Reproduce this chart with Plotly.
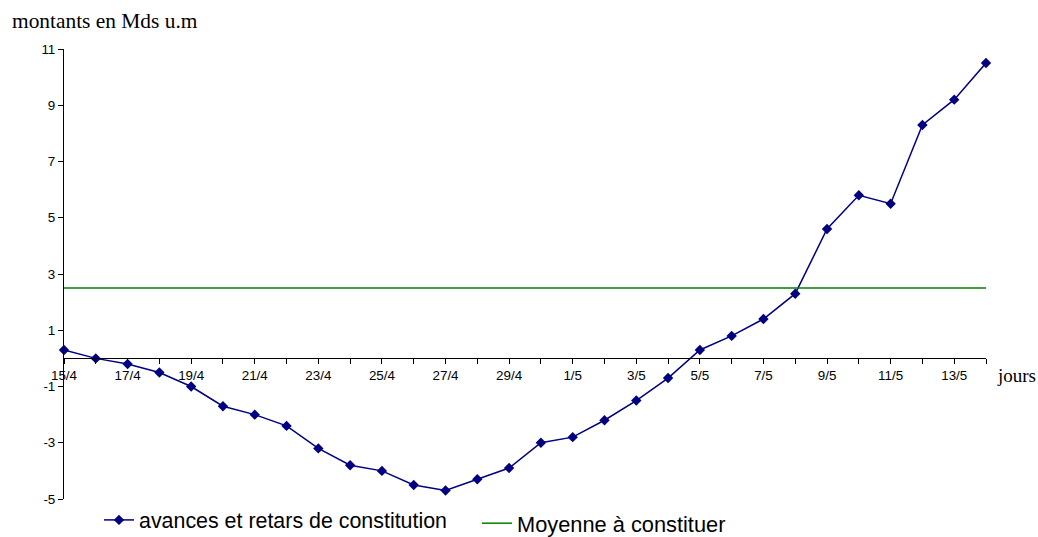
import plotly.graph_objects as go

days = ["15/4","16/4","17/4","18/4","19/4","20/4","21/4","22/4","23/4","24/4",
        "25/4","26/4","27/4","28/4","29/4","30/4","1/5","2/5","3/5","4/5",
        "5/5","6/5","7/5","8/5","9/5","10/5","11/5","12/5","13/5","14/5"]
avances = [0.3, 0.0, -0.2, -0.5, -1.0, -1.7, -2.0, -2.4, -3.2, -3.8,
           -4.0, -4.5, -4.7, -4.3, -3.9, -3.0, -2.8, -2.2, -1.5, -0.7,
           0.3, 0.8, 1.4, 2.3, 4.6, 5.8, 5.5, 8.3, 9.2, 10.5]
moyenne = [2.5] * len(days)
y_ticks = [-5, -3, -1, 1, 3, 5, 7, 9, 11]
y_tick_labels = [str(v) for v in y_ticks]

idx = list(range(len(days)))
tick_text = [d if i % 2 == 0 else "" for i, d in enumerate(days)]

W, H = 1038, 537
L, R, T, B = 64, 52, 49, 38
PW, PH = W - L - R, H - T - B

fig = go.Figure()
fig.add_trace(go.Scatter(
    x=idx, y=avances, mode="lines+markers",
    name="avances et retars de constitution",
    line=dict(color="#000080", width=1.5),
    marker=dict(symbol="diamond", size=8, color="#000080"),
    legend="legend", cliponaxis=False,
))
fig.add_trace(go.Scatter(
    x=idx, y=moyenne, mode="lines",
    name="Moyenne à constituer",
    line=dict(color="#008000", width=1.5),
    legend="legend2",
))

ymin, ymax = -5, 11
fig.update_layout(
    width=W, height=H,
    margin=dict(l=L, r=R, t=T, b=B, autoexpand=False),
    paper_bgcolor="white", plot_bgcolor="white",
    font=dict(family="Liberation Sans, Arial, sans-serif", color="black", size=13),
    xaxis=dict(
        range=[0, len(days) - 1], tickvals=idx, ticktext=tick_text,
        showgrid=False, zeroline=False, showline=True, linecolor="black", linewidth=1,
        ticks="outside", ticklen=5, tickcolor="black",
        anchor="free", position=(0 - ymin) / (ymax - ymin),
        tickfont=dict(size=13.4), tickangle=0,
    ),
    yaxis=dict(
        range=[ymin, ymax], tickvals=y_ticks, ticktext=y_tick_labels,
        showgrid=False, zeroline=False, showline=True, linecolor="black", linewidth=1,
        ticks="outside", ticklen=5, tickcolor="black",
        tickfont=dict(size=13.4),
    ),
    legend=dict(
        orientation="h", xref="container", yref="container",
        x=99 / W, y=(H - 520) / H, xanchor="left", yanchor="middle",
        font=dict(size=21.4), bgcolor="rgba(0,0,0,0)",
    ),
    legend2=dict(
        orientation="h", xref="container", yref="container",
        x=477 / W, y=(H - 523.5) / H, xanchor="left", yanchor="middle",
        font=dict(size=21.8), bgcolor="rgba(0,0,0,0)",
    ),
    showlegend=True,
)

fig.add_annotation(
    text="montants en Mds u.m", xref="paper", yref="paper",
    x=(10 - L) / PW, y=1 + (T - 21) / PH, xanchor="left", yanchor="middle",
    showarrow=False, font=dict(family="Liberation Serif, Times New Roman, serif", size=21.4),
)
fig.add_annotation(
    text="jours", xref="paper", yref="paper",
    x=(995 - L) / PW, y=(H - B - 375) / PH, xanchor="left", yanchor="middle",
    showarrow=False, font=dict(family="Liberation Serif, Times New Roman, serif", size=19),
)

fig.write_html("out.html", config={"displayModeBar": False},
               post_script="document.body.style.margin='0';")
